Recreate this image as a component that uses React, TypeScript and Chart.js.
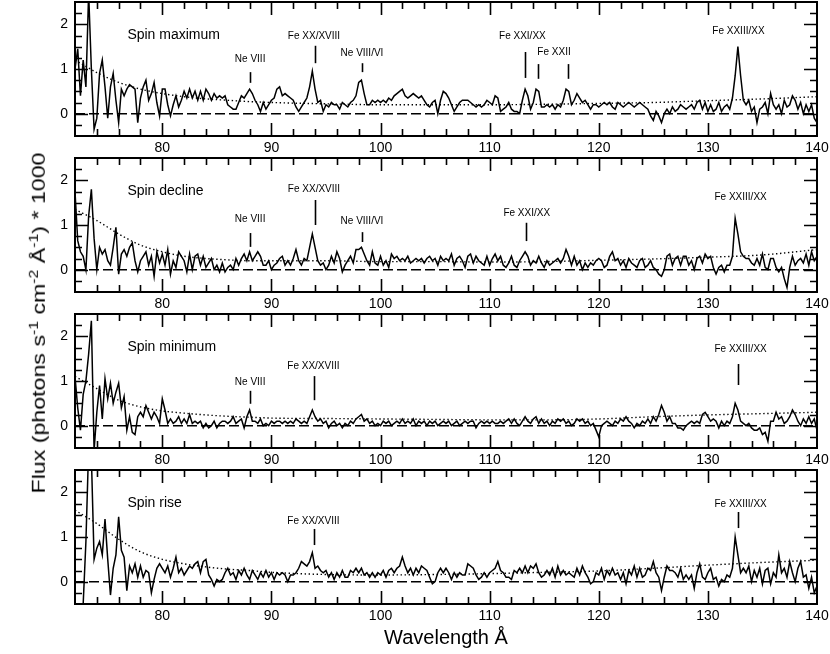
import React, { useEffect, useRef } from "react";
import { Chart, registerables } from "chart.js";

Chart.register(...registerables);

const FONT = '"Liberation Sans", Arial, Helvetica, sans-serif';

// Wavelength grid (Å): 72 .. 140 in 0.25 Å bins
const WL_START = 72;
const WL_STEP = 0.25;

// Flux values (photons s^-1 cm^-2 Å^-1 * 1000), one per 0.25 Å bin, 8 bins per row
const fluxMaximum = [
  1.0, 1.45, 0.4, 1.2, 0.6, 2.7, 1.0, -0.35,
  -0.1, 0.9, 1.2, 0.6, -0.1, 0.6, 0.9, 0.3,
  -0.2, 0.55, 0.4, 0.55, 0.65, 0.6, 0.55, -0.2,
  0.35, 0.6, 0.75, 0.3, 0.45, 0.7, 0.25, -0.05,
  0.55, 0.55, 0.2, -0.05, 0.2, 0.4, 0.15, 0.3,
  0.5, 0.35, 0.55, 0.35, 0.5, 0.3, 0.5, 0.3,
  0.55, 0.45, 0.3, 0.45, 0.35, 0.4, 0.35, 0.4,
  0.2, 0.15, 0.1, 0.1, 0.25, 0.4, 0.35, 0.45,
  0.55, 0.45, 0.3, 0.2, 0.05, 0.25, 0.1, 0.2,
  0.3, 0.35, 0.55, 0.6, 0.4, 0.45, 0.4, 0.35,
  0.3, 0.15, 0.05, 0.15, 0.25, 0.35, 0.6, 0.95,
  0.55, 0.25, 0.3, 0.05, 0.2, 0.15, 0.25, 0.2,
  0.2, 0.1, 0.25, 0.2, 0.15, 0.25, 0.3, 0.4,
  0.7, 0.75, 0.45, 0.2, 0.2, 0.3, 0.25, 0.3,
  0.25, 0.3, 0.25, 0.35, 0.3, 0.4, 0.45, 0.5,
  0.55, 0.4, 0.35, 0.4, 0.45, 0.4, 0.35, 0.4,
  0.3, 0.2, 0.15, 0.25, 0.3, 0.0, 0.3, 0.5,
  0.45, 0.35, 0.2, 0.05, 0.15, 0.25, 0.3, 0.3,
  0.3, 0.25, 0.2, 0.15, 0.2, 0.15, 0.2, 0.3,
  0.25, 0.2, 0.4, 0.35, 0.05, 0.1, 0.15, 0.25,
  0.1, 0.05, 0.05, 0.0, 0.3, 0.55, 0.4, 0.1,
  0.25, 0.55, 0.5, 0.15, 0.15, 0.2, 0.15, 0.2,
  0.1, 0.2, 0.15, 0.3, 0.55, 0.5, 0.2, 0.3,
  0.45, 0.35, 0.25, 0.3, 0.2, 0.1, 0.2, 0.2,
  0.15, 0.2, 0.25, 0.2, 0.25, 0.15, 0.1, 0.25,
  0.2, 0.15, 0.2, 0.25, 0.2, 0.15, 0.2, 0.25,
  0.2, 0.15, 0.1, -0.05, -0.15, 0.05, -0.05, -0.2,
  0.0, 0.1, 0.0, 0.15, 0.05, 0.1, 0.2, 0.15,
  0.1, 0.15, 0.2, 0.1, 0.25, 0.3, 0.1, 0.25,
  0.05, 0.2, 0.05, 0.1, 0.25, 0.05, 0.15, 0.2,
  0.1, 0.35, 0.85, 1.5, 0.85, 0.3, 0.2, 0.3,
  0.05, 0.15, -0.2, 0.1, 0.15, 0.25, 0.0, 0.45,
  0.2, 0.1, 0.2, 0.0, 0.3, 0.15, 0.2, 0.4,
  0.3, 0.1, 0.25, 0.0, 0.2, 0.05, 0.2, -0.1,
  -0.2,
];

const fluxDecline = [
  1.75, 0.65, 0.4, 0.3, 0.0, 1.2, 1.8, 0.7,
  0.0, 0.5, 0.35, 0.45, 0.2, 0.1, 0.5, 0.95,
  -0.1, 0.35, 0.45, 0.3, 0.5, 0.6, 0.2, -0.05,
  0.2, 0.3, 0.4, 0.1, 0.3, -0.15, 0.4, 0.15,
  0.35, 0.1, 0.45, -0.1, 0.2, 0.05, 0.4, 0.3,
  0.2, -0.05, 0.35, 0.0, 0.3, 0.35, 0.1, 0.3,
  0.05, 0.15, 0.25, 0.0, 0.1, -0.05, 0.15, -0.05,
  0.05, 0.1, 0.0, 0.25, 0.1, 0.25, 0.35, 0.2,
  0.4, 0.2, 0.3, 0.4, 0.3, 0.1, 0.1, 0.2,
  0.0, 0.1, 0.15, 0.25, 0.3, 0.1, 0.2, 0.1,
  0.25, 0.45, 0.2, 0.1, 0.25, 0.2, 0.5, 0.8,
  0.5, 0.2, 0.1, 0.15, 0.0, 0.1, 0.3, 0.15,
  0.4, 0.25, -0.05, 0.1, 0.2, 0.3, 0.15, 0.45,
  0.45, 0.5, 0.35, 0.2, 0.1, 0.4, 0.15, 0.1,
  0.3, 0.1, 0.2, 0.05, 0.35, 0.25, 0.3, 0.2,
  0.25, 0.2, 0.3, 0.15, 0.2, 0.25, 0.2, 0.25,
  0.15, 0.25, 0.3, 0.2, 0.25, 0.1, 0.3, 0.2,
  0.25, 0.2, 0.35, 0.1, 0.25, 0.3, 0.2, 0.05,
  0.3, 0.35, 0.15, 0.3, 0.2, 0.15, 0.1, 0.3,
  0.1, 0.25, 0.35, 0.2, 0.3, 0.1, 0.05, 0.15,
  0.3, 0.1, 0.05, 0.2, 0.3, 0.4, 0.3, 0.1,
  0.2, 0.15, 0.3, 0.15, 0.05, 0.2, 0.1, 0.15,
  0.2, 0.25, 0.15, 0.25, 0.45, 0.3, 0.1, 0.3,
  0.1, 0.2, 0.0, 0.15, 0.05, 0.15, 0.1, 0.2,
  0.25, 0.2, 0.05, 0.1, 0.3, 0.4, 0.2, 0.25,
  0.1, 0.2, 0.05, 0.25, 0.15, 0.1, 0.05, 0.2,
  0.25, 0.05, 0.1, 0.2, 0.05, 0.0, -0.1, -0.15,
  0.0, 0.3, 0.35, 0.1, 0.25, 0.3, 0.1, 0.3,
  0.3, 0.1, 0.2, 0.0, 0.25, 0.3, 0.15, 0.35,
  0.25, 0.3, 0.05, -0.1, 0.05, 0.1, -0.05, 0.1,
  0.1, 0.3, 1.15, 0.8, 0.4, 0.3, 0.25, 0.25,
  0.15, 0.1, 0.25, 0.1, 0.35, 0.05, 0.0, 0.25,
  0.25, 0.05, -0.05, 0.05, -0.2, -0.4, 0.05, 0.3,
  0.1, 0.2, 0.25, 0.15, 0.35, 0.1, 0.4, 0.2,
  0.3,
];

const fluxMinimum = [
  1.1, 0.4, -0.1, 0.7, 1.0, 1.6, 2.35, -0.55,
  0.3, 0.9, 0.15, 1.05, 0.6, 0.95, 0.5, 0.75,
  0.95, 0.4, 0.65, -0.1, 0.2, -0.15, -0.2, 0.2,
  0.3, 0.2, 0.45, 0.3, 0.15, 0.3, 0.2, 0.05,
  0.6, 0.35, 0.05, 0.15, 0.05, 0.1, 0.2, 0.05,
  0.15, 0.05, 0.25, 0.05, 0.1, 0.05, 0.1, -0.05,
  0.05, -0.05, 0.0, 0.1, -0.05, 0.05, 0.1, 0.1,
  0.05, 0.1, 0.2, 0.05, 0.1, 0.15, -0.05, 0.2,
  0.35, 0.1, 0.1, 0.05, 0.15, 0.0, 0.05, 0.0,
  0.1, 0.05, 0.1, 0.1, 0.05, 0.1, 0.05, 0.1,
  0.05, 0.15, 0.1, 0.05, 0.1, 0.05, 0.2, 0.35,
  0.2, 0.1, 0.15, 0.05, 0.1, -0.05, 0.05, 0.1,
  0.0, 0.05, -0.05, 0.05, 0.0, 0.1, 0.05, 0.15,
  0.2, 0.25, 0.1, 0.15, 0.05, 0.1, 0.0, 0.05,
  0.0, 0.1, 0.05, 0.1, 0.0, 0.05, 0.1, 0.05,
  0.15, 0.05, 0.1, 0.05, 0.15, 0.0, 0.1, 0.05,
  0.1, 0.0, 0.1, 0.05, 0.1, 0.0, 0.05, 0.1,
  0.05, 0.1, 0.0, 0.05, 0.1, 0.0, 0.05, 0.1,
  0.05, 0.1, 0.1, -0.05, 0.05, 0.1, 0.05, 0.1,
  0.05, 0.1, 0.05, 0.05, 0.1, 0.05, 0.1, 0.15,
  0.05, 0.15, 0.05, 0.0, 0.1, 0.2, 0.1, 0.05,
  0.15, 0.2, 0.05, 0.15, 0.05, 0.1, 0.0, 0.1,
  0.05, 0.15, 0.1, 0.15, 0.05, 0.1, 0.0, 0.05,
  0.15, 0.1, 0.15, 0.05, 0.1, 0.0, 0.05, -0.1,
  -0.25, 0.0, 0.05, 0.1, 0.05, 0.0, 0.1, 0.05,
  0.15, 0.1, 0.2, 0.1, 0.05, -0.05, 0.05, 0.0,
  0.1, 0.05, 0.15, 0.05, 0.2, 0.1, 0.25, 0.45,
  0.3, 0.1, 0.2, 0.05, 0.05, -0.05, -0.05, -0.1,
  0.0, 0.05, 0.1, 0.05, 0.1, 0.05, 0.25, 0.3,
  0.2, 0.1, 0.15, 0.1, -0.05, 0.1, 0.0, 0.1,
  0.05, 0.2, 0.5, 0.35, 0.1, 0.05, 0.0, 0.05,
  -0.05, -0.1, -0.1, -0.05, -0.2, -0.15, -0.35, 0.1,
  0.1, 0.3, 0.15, 0.2, 0.05, 0.1, 0.2, 0.35,
  0.25, 0.1, 0.0, 0.15, 0.05, 0.2, 0.05, 0.15,
  -0.1,
];

const fluxRise = [
  -1.0, -0.9, -0.7, -0.5, 0.9, 3.0, 2.8, 0.5,
  0.75, 0.9, 0.6, 1.4, 0.5, -0.3, 0.3, 0.6,
  1.45, 0.7, 0.55, -0.2, 0.35, 0.2, 0.4, 0.1,
  0.35, 0.1, 0.25, 0.2, -0.25, 0.05, 0.3, 0.4,
  0.3, 0.2, 0.35, 0.1, 0.3, 0.55, 0.2, 0.3,
  0.15, 0.25, 0.35, 0.3, 0.4, 0.45, 0.2, 0.45,
  0.5, 0.15, 0.05, -0.1, 0.05, 0.0, 0.05, 0.2,
  0.3, 0.15, 0.2, 0.05, 0.25, 0.15, 0.3, 0.15,
  0.05, 0.25, 0.15, 0.05, 0.2, 0.1, 0.25, 0.1,
  0.2, 0.05, 0.2, 0.15, 0.2, 0.15, 0.0, 0.15,
  0.15, 0.2, 0.3, 0.45, 0.4, 0.35, 0.45, 0.65,
  0.3, 0.35, 0.25, 0.2, 0.25, 0.1, 0.2, 0.05,
  0.2, 0.1, 0.25, 0.1, 0.1, 0.25, 0.2, 0.3,
  0.2, 0.3, 0.15, 0.2, 0.1, 0.2, 0.1, 0.2,
  0.15, 0.25, 0.1, 0.25, 0.3, 0.2, 0.3, 0.35,
  0.55, 0.35, 0.2, 0.3, 0.15, 0.3, 0.2, 0.35,
  0.3, 0.25, 0.1, -0.05, 0.0, 0.2, 0.3, 0.2,
  0.3, 0.2, 0.05, 0.2, 0.1, 0.2, 0.15, 0.15,
  0.4, 0.35, 0.3, 0.15, 0.05, 0.1, 0.2, 0.1,
  0.2, 0.25, 0.3, 0.45, 0.25, 0.2, 0.1, 0.1,
  0.05, 0.25, 0.2, 0.3, 0.2, 0.35, 0.2, 0.35,
  0.3, 0.4, 0.2, 0.1, 0.15, 0.25, 0.15, 0.3,
  0.1, 0.35, 0.15, 0.25, 0.15, 0.2, 0.15, 0.1,
  0.3, 0.15, 0.35, 0.2, 0.1, -0.05, 0.0, 0.2,
  0.15, 0.3, 0.05, 0.25, 0.15, 0.3, 0.15, 0.2,
  0.05, 0.2, -0.05, 0.25, 0.15, 0.35, 0.1, 0.3,
  0.1, 0.15, 0.3, 0.25, 0.45, 0.2, 0.1, -0.2,
  0.1, 0.35, 0.25, 0.25, 0.2, 0.1, 0.3, 0.05,
  0.15, 0.05, 0.15, -0.15, 0.2, 0.4, 0.1, 0.05,
  0.2, 0.3, 0.05, 0.1, -0.1, 0.05, 0.0, 0.15,
  0.1, 0.3, 1.0, 0.6, 0.2, 0.3, 0.2, 0.35,
  0.0, 0.25, 0.1, 0.3, -0.05, 0.25, 0.3, -0.05,
  0.2, 0.1, 0.6, 0.2, 0.3, 0.1, 0.45, 0.2,
  0.0, 0.3, 0.45, 0.1, 0.15, -0.15, 0.1, -0.25,
  -0.1,
];

// Smooth model / uncertainty curves (dotted)
const modelWavelengths = [72, 74, 76, 78, 80, 82, 84, 86, 88, 90, 95, 100, 105, 110, 115, 120, 125, 130, 135, 140];
const modelMaximum = [1.2, 0.92, 0.7, 0.55, 0.45, 0.38, 0.33, 0.3, 0.27, 0.25, 0.22, 0.2, 0.2, 0.2, 0.21, 0.23, 0.25, 0.29, 0.33, 0.38];
const modelDecline = [1.35, 1.1, 0.8, 0.55, 0.4, 0.3, 0.25, 0.22, 0.2, 0.2, 0.2, 0.18, 0.18, 0.17, 0.18, 0.21, 0.24, 0.28, 0.33, 0.45];
const modelMinimum = [1.1, 0.83, 0.57, 0.42, 0.33, 0.28, 0.24, 0.21, 0.19, 0.17, 0.16, 0.15, 0.14, 0.13, 0.13, 0.15, 0.2, 0.24, 0.27, 0.3];
const modelRise = [1.6, 1.3, 0.95, 0.67, 0.5, 0.4, 0.33, 0.28, 0.25, 0.21, 0.16, 0.15, 0.16, 0.18, 0.21, 0.24, 0.3, 0.37, 0.43, 0.48];

// Axes
const X_MIN = 72;
const X_MAX = 140;
const Y_MIN = -0.5;
const Y_MAX = 2.5;
const xTickValues = [80, 90, 100, 110, 120, 130, 140];
const xMinorStep = 2;
const yTickValues = [0, 1, 2];
const yMinorStep = 0.25;

const panelNames = ["Spin maximum", "Spin decline", "Spin minimum", "Spin rise"];
const xAxisTitle = "Wavelength Å";

// Line identifications: label text, wavelength of label centre, wavelength(s) of the marker
type Note = { text: string; at: number; markers: number[] };
const notesMaximum: Note[] = [
  { text: "Ne VIII", at: 88.05, markers: [88.0] },
  { text: "Fe XX/XVIII", at: 93.9, markers: [93.95] },
  { text: "Ne VIII/VI", at: 98.3, markers: [98.3] },
  { text: "Fe XXI/XX", at: 113.0, markers: [113.2] },
  { text: "Fe XXII", at: 115.9, markers: [114.4, 117.2] },
  { text: "Fe XXIII/XX", at: 132.8, markers: [] },
];
const notesDecline: Note[] = [
  { text: "Ne VIII", at: 88.05, markers: [88.0] },
  { text: "Fe XX/XVIII", at: 93.9, markers: [93.95] },
  { text: "Ne VIII/VI", at: 98.3, markers: [98.3] },
  { text: "Fe XXI/XX", at: 113.4, markers: [113.3] },
  { text: "Fe XXIII/XX", at: 133.0, markers: [] },
];
const notesMinimum: Note[] = [
  { text: "Ne VIII", at: 88.05, markers: [88.0] },
  { text: "Fe XX/XVIII", at: 93.85, markers: [93.9] },
  { text: "Fe XXIII/XX", at: 133.0, markers: [132.8] },
];
const notesRise: Note[] = [
  { text: "Fe XX/XVIII", at: 93.85, markers: [93.9] },
  { text: "Fe XXIII/XX", at: 133.0, markers: [132.8] },
];

// Layout of the annotations (flux units): label height, marker top, marker bottom
const noteLayoutMaximum = [
  [1.22, 0.93, 0.69], [1.74, 1.52, 1.13], [1.36, 1.13, 0.93], [1.74, 1.38, 0.8], [1.38, 1.11, 0.78], [1.85, 0, 0],
];
const noteLayoutDecline = [
  [1.13, 0.82, 0.51], [1.81, 1.56, 1.0], [1.09, 0.84, 0.62], [1.27, 1.05, 0.64], [1.63, 0, 0],
];
const noteLayoutMinimum = [
  [0.98, 0.78, 0.49], [1.34, 1.11, 0.57], [1.72, 1.38, 0.91],
];
const noteLayoutRise = [
  [1.36, 1.18, 0.82], [1.74, 1.56, 1.2],
];
const PANEL_TITLE_POS = { x: 76.8, y: 1.76 };

const panels = [
  { name: panelNames[0], flux: fluxMaximum, model: modelMaximum, notes: notesMaximum, layout: noteLayoutMaximum },
  { name: panelNames[1], flux: fluxDecline, model: modelDecline, notes: notesDecline, layout: noteLayoutDecline },
  { name: panelNames[2], flux: fluxMinimum, model: modelMinimum, notes: notesMinimum, layout: noteLayoutMinimum },
  { name: panelNames[3], flux: fluxRise, model: modelRise, notes: notesRise, layout: noteLayoutRise },
];

const MAJOR_TICK = 13;
const MINOR_TICK = 7;

const decorPlugin = {
  id: "panelDecor",
  afterDraw(chart: any, _args: any, opts: any) {
    const { ctx, chartArea } = chart;
    const { left, right, top, bottom } = chartArea;
    const xs = chart.scales.x;
    const ys = chart.scales.y;
    ctx.save();
    ctx.strokeStyle = "#000";
    ctx.fillStyle = "#000";
    ctx.lineWidth = 1.6;
    ctx.beginPath();
    // x ticks (inward, top and bottom)
    for (let v = X_MIN + 2; v < X_MAX; v += xMinorStep) {
      const len = xTickValues.includes(v) ? MAJOR_TICK : MINOR_TICK;
      const px = Math.round(xs.getPixelForValue(v)) + 0.5;
      ctx.moveTo(px, bottom);
      ctx.lineTo(px, bottom - len);
      ctx.moveTo(px, top);
      ctx.lineTo(px, top + len);
    }
    // y ticks (inward, left and right)
    for (let k = 1; Y_MIN + k * yMinorStep < Y_MAX - 1e-6; k++) {
      const v = Y_MIN + k * yMinorStep;
      const len = yTickValues.some((t) => Math.abs(t - v) < 1e-6) ? MAJOR_TICK : MINOR_TICK;
      const py = Math.round(ys.getPixelForValue(v)) + 0.5;
      ctx.moveTo(left, py);
      ctx.lineTo(left + len, py);
      ctx.moveTo(right, py);
      ctx.lineTo(right - len, py);
    }
    ctx.stroke();
    // frame
    ctx.lineWidth = 2;
    ctx.strokeRect(left, top, right - left, bottom - top);

    // panel title
    ctx.font = `14px ${FONT}`;
    ctx.textAlign = "left";
    ctx.textBaseline = "middle";
    ctx.fillText(opts.title, xs.getPixelForValue(PANEL_TITLE_POS.x), ys.getPixelForValue(PANEL_TITLE_POS.y));

    // line identifications
    ctx.font = `10px ${FONT}`;
    ctx.textAlign = "center";
    ctx.lineWidth = 1.6;
    (opts.notes as Note[]).forEach((n, i) => {
      const [ly, mt, mb] = opts.layout[i];
      ctx.fillText(n.text, xs.getPixelForValue(n.at), ys.getPixelForValue(ly));
      n.markers.forEach((m) => {
        const px = Math.round(xs.getPixelForValue(m)) + 0.5;
        ctx.beginPath();
        ctx.moveTo(px, ys.getPixelForValue(mt));
        ctx.lineTo(px, ys.getPixelForValue(mb));
        ctx.stroke();
      });
    });
    ctx.restore();
  },
};

const CANVAS_W = 830;
const PANEL_STEP = 156;
const AREA_TOP = 2;
const AREA_H = 134;

function Panel({ index }: { index: number }) {
  const ref = useRef<HTMLCanvasElement | null>(null);
  const last = index === panels.length - 1;
  const xAxisH = last ? 50 : PANEL_STEP - AREA_TOP - AREA_H;
  const height = AREA_TOP + AREA_H + xAxisH;
  const p = panels[index];

  useEffect(() => {
    const canvas = ref.current;
    if (!canvas) return;
    const spectrum = p.flux.map((f, i) => ({ x: WL_START + i * WL_STEP, y: f }));
    const model = modelWavelengths.map((w, i) => ({ x: w, y: p.model[i] }));
    const zero = [
      { x: X_MIN, y: 0 },
      { x: X_MAX, y: 0 },
    ];
    const chart = new Chart(canvas, {
      type: "line",
      data: {
        datasets: [
          {
            data: zero,
            borderColor: "#000",
            borderWidth: 1.5,
            borderDash: [10, 4],
            pointRadius: 0,
            fill: false,
          },
          {
            data: model,
            borderColor: "#000",
            borderWidth: 1.4,
            borderDash: [1.4, 2.6],
            pointRadius: 0,
            cubicInterpolationMode: "monotone",
            fill: false,
          },
          {
            data: spectrum,
            borderColor: "#000",
            borderWidth: 1.5,
            pointRadius: 0,
            tension: 0,
            fill: false,
          },
        ],
      },
      options: {
        animation: false,
        responsive: false,
        devicePixelRatio: 1,
        events: [],
        layout: { padding: { left: 0, right: CANVAS_W - 817, top: AREA_TOP, bottom: 0 } },
        plugins: {
          legend: { display: false },
          tooltip: { enabled: false },
          panelDecor: { title: p.name, notes: p.notes, layout: p.layout },
        } as any,
        scales: {
          x: {
            type: "linear",
            min: X_MIN,
            max: X_MAX,
            grid: { display: false, drawTicks: false },
            border: { display: false },
            ticks: {
              color: "#000",
              font: { family: FONT, size: 14 },
              padding: 4,
              maxRotation: 0,
              autoSkip: false,
              callback: (v: any) => String(v),
            },
            afterBuildTicks: (scale: any) => {
              scale.ticks = xTickValues.map((v) => ({ value: v }));
            },
            afterFit: (scale: any) => {
              scale.height = xAxisH;
              scale.paddingLeft = 0;
              scale.paddingRight = 0;
            },
            title: {
              display: last,
              text: xAxisTitle,
              color: "#000",
              font: { family: FONT, size: 20 },
              padding: { top: 0, bottom: 4 },
            },
          },
          y: {
            type: "linear",
            min: Y_MIN,
            max: Y_MAX,
            grid: { display: false, drawTicks: false },
            border: { display: false },
            ticks: {
              color: "#000",
              font: { family: FONT, size: 14 },
              padding: 7,
              callback: (v: any) => String(v),
            },
            afterBuildTicks: (scale: any) => {
              scale.ticks = yTickValues.map((v) => ({ value: v }));
            },
            afterFit: (scale: any) => {
              scale.width = 75;
              scale.paddingTop = 0;
              scale.paddingBottom = 0;
            },
          },
        },
      },
      plugins: [decorPlugin as any],
    } as any);
    return () => chart.destroy();
  }, [index]);

  return (
    <canvas
      ref={ref}
      width={CANVAS_W}
      height={height}
      style={{ position: "absolute", left: 0, top: index * PANEL_STEP, width: CANVAS_W, height, display: "block" }}
    />
  );
}

export default function App() {
  return (
    <div style={{ position: "absolute", left: 0, top: 0, width: 830, height: 654, background: "#fff", overflow: "hidden" }}>
      {panels.map((_, i) => (
        <Panel key={i} index={i} />
      ))}
      <div
        style={{
          position: "absolute",
          left: 38,
          top: 323,
          transform: "translate(-50%, -50%) rotate(-90deg) scale(1.22, 1)",
          whiteSpace: "nowrap",
          fontFamily: FONT,
          fontSize: 19,
          lineHeight: "1",
          color: "#000",
        }}
      >
        Flux (photons s<sup style={{ fontSize: "0.68em" }}>-1</sup> cm<sup style={{ fontSize: "0.68em" }}>-2</sup>{" "}
        Å<sup style={{ fontSize: "0.68em" }}>-1</sup>) * 1000
      </div>
    </div>
  );
}
